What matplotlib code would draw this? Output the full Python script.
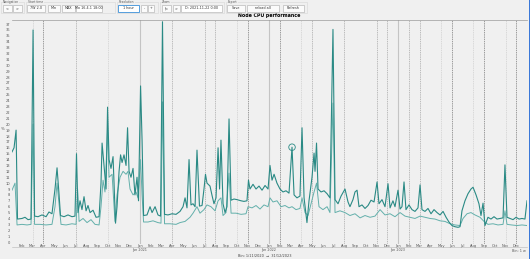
import matplotlib
matplotlib.use('Agg')
import matplotlib.pyplot as plt
from matplotlib.patches import Rectangle

# x = months since start, y = value
cpu_a_x = [0.09, 0.28, 0.47, 0.60, 1.02, 1.30, 1.58, 1.86, 2.05, 2.19, 2.51, 2.88, 3.26, 3.53,
           3.81, 4.09, 4.28, 4.47, 4.60, 4.93, 5.30, 5.67, 5.95, 6.09, 6.23, 6.42, 6.60, 6.79,
           6.98, 7.16, 7.35, 7.63, 7.91, 8.19, 8.37, 8.47, 8.65, 8.84, 8.98, 9.12, 9.30, 9.49,
           9.72, 9.86, 10.05, 10.19, 10.33, 10.51, 10.70, 10.84, 10.98, 11.16, 11.35, 11.53,
           11.72, 11.86, 12.05, 12.19, 12.33, 12.65, 12.93, 13.12, 13.40, 13.67, 13.91, 14.09,
           14.28, 14.60, 14.98, 15.35, 15.72, 16.00, 16.19, 16.37, 16.56, 16.74, 16.93, 17.12,
           17.30, 17.53, 17.77, 17.95, 18.09, 18.23, 18.51, 18.70, 18.88, 19.07, 19.26, 19.40,
           19.53, 19.72, 19.91, 20.09, 20.28, 20.47, 20.74, 21.02, 21.40, 21.67, 21.95, 22.09,
           22.23, 22.51, 22.79, 23.07, 23.35, 23.63, 23.91, 24.09, 24.28, 24.47, 24.74, 25.02,
           25.30, 25.58, 25.86, 26.14, 26.33, 26.60, 26.88, 27.07, 27.26, 27.53, 27.72, 28.00,
           28.19, 28.28, 28.42, 28.56, 28.84, 29.12, 29.40, 29.67, 29.95, 30.14, 30.42, 30.70,
           31.07, 31.35, 31.53, 31.81, 32.00, 32.19, 32.37, 32.65, 32.93, 33.21, 33.49, 33.77,
           34.05, 34.23, 34.51, 34.79, 35.07, 35.26, 35.53, 35.72, 36.00, 36.19, 36.37, 36.56,
           36.74, 37.02, 37.30, 37.58, 37.86, 38.05, 38.23, 38.51, 38.79, 39.07, 39.35, 39.63,
           39.91, 40.19, 40.47, 40.74, 41.02, 41.30, 41.58, 41.77, 41.95, 42.23, 42.51, 42.79,
           42.98, 43.26, 43.53, 43.72, 43.91, 44.09, 44.37, 44.65, 44.93, 45.21, 45.49, 45.77,
           45.95, 46.14, 46.42, 46.70, 46.98, 47.26, 47.53, 47.81, 48.00]
cpu_a_y = [15.3, 16.0, 19.0, 3.9, 4.0, 4.2, 3.8, 3.9, 36.0, 4.4, 4.3, 4.6, 4.3, 5.1,
           4.8, 9.0, 12.6, 8.0, 4.5, 4.3, 4.6, 4.3, 4.4, 15.0, 5.0, 7.0, 5.5, 7.7,
           5.3, 6.2, 5.0, 5.4, 4.2, 4.3, 10.0, 16.8, 13.0, 9.0, 22.9, 14.0, 12.5, 14.5,
           3.2, 6.0, 12.0, 14.8, 13.5, 14.8, 13.0, 19.4, 12.0, 11.0, 12.5, 8.0,
           11.0, 7.0, 26.5, 17.3, 4.5, 4.6, 6.0, 5.0, 6.0, 4.6, 4.4, 37.4,
           4.7, 4.6, 4.8, 4.7, 5.2, 6.0, 7.5, 5.8, 14.0, 6.3, 6.5, 6.0,
           15.6, 6.1, 6.2, 9.0, 11.5, 10.0, 9.5, 7.9, 6.5, 7.5, 16.0, 9.0,
           17.3, 6.5, 5.0, 6.0, 20.9, 7.1, 7.3, 7.2, 7.0, 6.9, 7.0, 10.5,
           9.0, 9.8, 9.0, 9.5, 8.8, 9.6, 9.0, 13.0, 10.5, 11.5, 10.0, 9.0,
           8.5, 8.7, 8.3, 16.1, 8.0, 7.5, 7.8, 19.4, 7.5, 3.3, 7.0, 11.0,
           15.1, 12.0, 16.8, 9.0, 8.5, 8.7, 8.2, 7.5, 36.1, 7.2, 6.5, 7.8,
           9.0, 6.8, 6.0, 7.2, 8.5, 8.8, 6.0, 6.3, 5.7, 6.2, 7.1, 6.8,
           10.2, 6.5, 7.2, 6.0, 9.9, 5.8, 7.0, 6.0, 8.8, 5.6, 6.0, 10.2,
           5.5, 6.3, 5.5, 5.2, 5.8, 9.7, 5.5, 5.2, 5.7, 4.8, 5.5, 5.0,
           4.6, 5.2, 4.2, 3.4, 2.8, 2.6, 2.5, 2.6, 5.3, 7.0, 8.2, 9.0,
           9.3, 8.0, 6.5, 4.5, 6.6, 2.8, 4.2, 3.9, 4.3, 3.9, 4.0, 4.1,
           13.1, 4.2, 4.0, 3.8, 4.2, 3.9, 4.0, 3.9, 7.0]

cpu_b_x = [0.09, 0.37, 0.56, 1.02, 1.49, 1.86, 2.05, 2.19, 2.70, 3.26, 3.81, 4.09, 4.28, 4.47,
           4.65, 5.12, 5.67, 6.05, 6.19, 6.33, 6.70, 7.07, 7.44, 7.81, 8.19, 8.37, 8.56, 8.74,
           8.98, 9.12, 9.40, 9.67, 9.86, 10.14, 10.42, 10.70, 10.88, 11.07, 11.35, 11.63, 11.81,
           12.05, 12.19, 12.33, 12.74, 13.21, 13.67, 13.95, 14.09, 14.28, 14.79, 15.35, 15.72,
           16.19, 16.65, 16.93, 17.30, 17.58, 17.95, 18.23, 18.60, 18.98, 19.26, 19.53, 19.72,
           20.00, 20.28, 20.47, 20.93, 21.40, 21.86, 22.05, 22.42, 22.79, 23.16, 23.53, 23.91,
           24.09, 24.37, 24.74, 25.12, 25.49, 25.86, 26.14, 26.51, 26.88, 27.07, 27.35, 27.63,
           27.91, 28.19, 28.42, 28.65, 29.02, 29.40, 29.67, 29.95, 30.14, 30.60, 31.07, 31.53,
           32.00, 32.47, 32.93, 33.40, 33.86, 34.33, 34.79, 35.26, 35.72, 36.19, 36.65, 37.12,
           37.58, 38.05, 38.51, 38.98, 39.44, 39.91, 40.37, 40.84, 41.30, 41.77, 42.05, 42.42,
           42.79, 43.16, 43.63, 44.00, 44.37, 44.84, 45.30, 45.77, 45.95, 46.14, 46.56, 47.07,
           47.53, 48.00]
cpu_b_y = [8.8, 10.0, 2.9, 3.0, 2.9, 3.0, 20.0, 3.0, 3.0, 2.9, 3.0, 6.0, 10.0, 6.5,
           3.0, 2.9, 3.1, 3.0, 9.0, 3.5, 4.0, 3.3, 3.8, 3.0, 2.9, 6.0, 10.5, 8.5,
           19.0, 11.0, 11.5, 3.5, 8.0, 11.0, 12.0, 11.5, 12.0, 9.0, 8.0, 8.5, 7.5,
           14.0, 8.0, 3.4, 3.4, 3.6, 3.3, 3.2, 23.8, 3.1, 3.1, 3.0, 3.3,
           3.5, 4.2, 4.9, 6.0, 4.9, 5.5, 6.3, 6.0, 5.3, 7.0, 7.5, 4.5,
           5.0, 11.7, 4.9, 4.9, 4.7, 4.8, 6.0, 5.8, 6.2, 5.6, 6.3, 6.0,
           7.5, 6.8, 7.0, 6.0, 6.2, 5.8, 6.0, 5.5, 5.7, 7.5, 5.0, 4.5,
           6.5, 8.5, 10.0, 6.0, 5.5, 6.0, 5.0, 23.6, 5.0, 5.3, 5.0, 4.5,
           4.8, 4.1, 4.5, 4.2, 4.4, 5.5, 4.6, 4.8, 4.3, 5.0, 4.4, 4.2,
           4.0, 4.4, 4.2, 4.0, 3.9, 3.6, 3.5, 3.1, 2.9, 2.8, 4.0, 4.8,
           5.0, 4.6, 4.2, 3.5, 3.0, 3.1, 2.9, 3.0, 5.3, 3.0, 2.9, 2.8,
           2.9, 2.8]

highlight = (26.14, 16.1)

events_dark = [3, 22, 25, 41, 44, 47]
events_mid = [6, 15, 18, 19, 28, 31, 34, 35, 37, 38]
events_light = [2, 9, 21, 27, 40, 43, 46]
year_starts = [12, 24, 36]
year_labels = ['Jan 2021', 'Jan 2022', 'Jan 2023']
month_names = ['Jan', 'Feb', 'Mar', 'Apr', 'May', 'Jun', 'Jul', 'Aug', 'Sep', 'Oct', 'Nov', 'Dec']
month_ticks = list(range(1, 48))
y_ticks = list(range(0, 38))

W, H = 530, 259
bg = '#f0f0f0'


def fx(x):
    return x / W


def fy(y):
    return 1 - y / H


fig = plt.figure(figsize=(W / 100, H / 100), dpi=100, facecolor=bg)

# --- toolbar ---
def box(x0, x1, label='', face='#fbfbfb', edge='#acacac', lw=0.4):
    fig.add_artist(Rectangle((fx(x0), fy(11.5)), (x1 - x0) / W, 7 / H, transform=fig.transFigure,
                             facecolor=face, edgecolor=edge, linewidth=lw))
    if label:
        fig.text(fx((x0 + x1) / 2), fy(8.2), label, fontsize=2.4, ha='center', va='center', color='#333333')


groups = [(1, 24, 'Navigation'), (26, 115, 'Start time'), (117, 158, 'Resolution'),
          (160, 224, 'Zoom'), (226, 307, 'Export')]
for g0, g1, gl in groups:
    fig.add_artist(Rectangle((fx(g0), fy(13)), (g1 - g0) / W, 11 / H, transform=fig.transFigure,
                             facecolor='none', edgecolor='#d6d6d6', linewidth=0.4))
    fig.text(fx(g0 + 2), fy(2.2), gl, fontsize=2.2, ha='left', va='center', color='#555555',
             bbox=dict(facecolor=bg, edgecolor='none', pad=0.2))

box(3, 12, '<')
box(13, 22, '>')
box(27, 45, '7W 2.0')
box(48, 60, 'Min')
box(62, 75, 'MAX')
box(76, 102, 'Mo 16.4.1 18:00', face='#ffffff')
box(118, 139, '1 hour', face='#ffffff', edge='#3b8fd8', lw=0.6)
box(141, 147, '-')
box(148, 154, '+')
box(162, 171, '|<')
box(173, 180, '>')
box(181, 222, 'D: 2021-11-22 0:00', face='#ffffff')
box(227, 245, 'Save')
box(247, 279, 'reload all')
box(283, 304, 'Refresh')

fig.add_artist(Rectangle((fx(528.5), 0), 1.5 / W, 1, transform=fig.transFigure,
                         facecolor='#3b78d8', edgecolor='none'))

# --- plot ---
ax = fig.add_axes([fx(12), fy(243.5), (527 - 12) / W, (243.5 - 19.5) / H])
ax.set_facecolor(bg)

for m in events_light:
    ax.axvline(m, color='#cfcfcf', lw=0.5, ls=(0, (2, 1.2)), zorder=1)
for m in events_mid:
    ax.axvline(m, color='#a8a8a8', lw=0.5, ls=(0, (2, 1.2)), zorder=1)
for m in events_dark:
    ax.axvline(m, color='#7a7a7a', lw=0.5, ls=(0, (2, 1.2)), zorder=1)
for m in year_starts:
    ax.axvline(m, color='#c4c4c4', lw=0.8, zorder=1)

ax.plot(cpu_b_x, cpu_b_y, color='#63b0ab', lw=0.7, zorder=2)
ax.plot(cpu_a_x, cpu_a_y, color='#2a8a85', lw=0.8, zorder=3)
ax.scatter([highlight[0]], [highlight[1]], s=22, facecolors='none', edgecolors='#2a8a85',
           linewidths=0.6, zorder=4)

ax.set_xlim(0.09, 48.0)
ax.set_ylim(-0.25, 37.78)
ax.set_xticks(month_ticks)
ax.set_xticklabels([month_names[(k - 12) % 12] for k in month_ticks])
ax.set_yticks(y_ticks)
ax.tick_params(axis='both', length=0, labelsize=2.6, labelcolor='#555555')
ax.tick_params(axis='x', pad=0.6)
ax.tick_params(axis='y', pad=1.2)
for s in ['left', 'right', 'bottom']:
    ax.spines[s].set_visible(False)
ax.spines['top'].set_color('#9a9a9a')
ax.spines['top'].set_linewidth(0.5)
ax.set_ylabel('%', rotation=0, fontsize=2.8, color='#555555', labelpad=2)

ax.set_title('Node CPU performance', fontsize=3.4, fontweight='bold', pad=1.5)

fig.add_artist(plt.Line2D([fx(12), fx(527)], [fy(247.3), fy(247.3)], transform=fig.transFigure,
                          color='#b5b5b5', lw=0.4))
for m, lab in zip(year_starts, year_labels):
    ax.annotate(lab, xy=(m, 0), xycoords=('data', 'axes fraction'), xytext=(0, -4.9),
                textcoords='offset points', ha='center', va='center', fontsize=2.4, color='#555555')
fig.text(fx(265), fy(256.3), 'Bin: 1/11/2020  \u2192  31/12/2023', fontsize=2.5, ha='center',
         va='center', color='#444444')
fig.text(fx(526), fy(250.8), 'Bin: 1 w', fontsize=2.4, ha='right', va='center', color='#555555')

fig.savefig('out.png', dpi=100, facecolor=bg)
